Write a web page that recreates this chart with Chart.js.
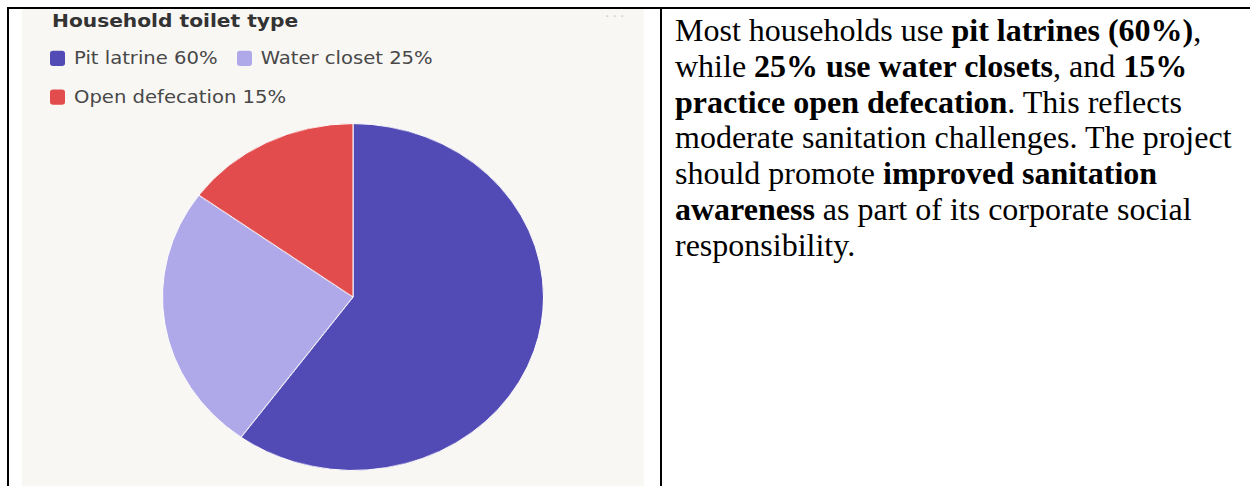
<!DOCTYPE html>
<html>
<head>
<meta charset="utf-8">
<script src="https://cdn.jsdelivr.net/npm/chart.js@4.4.1/dist/chart.umd.min.js"></script>
<style>
  body { margin: 0; width: 1250px; height: 486px; background: #fff; position: relative; overflow: hidden; }
  .rule { position: absolute; background: #000; }
  .panel { position: absolute; left: 22px; top: 9px; width: 622px; height: 477px; background: #f8f7f4; overflow: hidden; font-family: "DejaVu Sans", sans-serif; }
  .title { position: absolute; left: 30px; top: 3px; font-size: 20.2px; line-height: 20.2px; font-weight: 700; color: #333; transform: scaleY(0.9); transform-origin: 0 0; white-space: nowrap; }
  .menu { position: absolute; left: 583px; top: -1px; font-size: 14px; color: #cfcfcf; letter-spacing: 3px; }
  #legend { position: absolute; left: 28px; top: 30px; width: 440px; display: flex; flex-wrap: wrap; transform: scaleY(0.9); transform-origin: 0 0; }
  #legend .item { display: flex; align-items: center; height: 43px; margin-right: 19px; font-size: 19.6px; color: #484848; white-space: nowrap; }
  #legend .swatch { width: 15px; height: 16.5px; border-radius: 3px; margin-right: 9px; }
  .pie { position: absolute; left: 131px; top: 88px; width: 400px; height: 400px; transform: scaleY(0.91); transform-origin: 50% 50%; }
  .note { position: absolute; left: 675px; top: 13px; font-family: "Liberation Serif", "Times New Roman", serif; font-size: 32px; line-height: 35.8px; color: #000; white-space: nowrap; }
</style>
</head>
<body>
<div class="rule" style="left:7px; top:7px; width:1243px; height:2px;"></div>
<div class="rule" style="left:7px; top:7px; width:2px; height:479px;"></div>
<div class="rule" style="left:660px; top:7px; width:2px; height:479px;"></div>

<div class="panel">
  <div class="title">Household toilet type</div>
  <div class="menu">···</div>
  <div id="legend"></div>
  <div class="pie"><canvas id="toilets" width="400" height="400"></canvas></div>
</div>

<div class="note">
  Most households use <b>pit latrines (60%)</b>,<br>
  while <b>25% use water closets</b>, and <b>15%</b><br>
  <b>practice open defecation</b>. This reflects<br>
  moderate sanitation challenges. The project<br>
  should promote <b>improved sanitation</b><br>
  <b>awareness</b> as part of its corporate social<br>
  responsibility.
</div>

<script>
const toiletTypes = ["Pit latrine", "Water closet", "Open defecation"];
const householdShare = [60, 25, 15];
const sliceColors = ["#534bb5", "#b0a9e9", "#e24c4c"];

const chart = new Chart(document.getElementById("toilets"), {
  type: "pie",
  data: {
    labels: toiletTypes,
    datasets: [{
      data: householdShare,
      backgroundColor: sliceColors,
      borderColor: "#ffffff",
      borderWidth: 1,
      hoverOffset: 0,
    }],
  },
  options: {
    responsive: false,
    animation: false,
    layout: { padding: 9 },
    plugins: {
      legend: { display: false },
      tooltip: { enabled: false },
    },
  },
});

// legend as html so the rows break like the dashboard card
const legendEl = document.getElementById("legend");
chart.options.plugins.legend.labels.generateLabels(chart).forEach((item) => {
  const row = document.createElement("div");
  row.className = "item";
  const swatch = document.createElement("span");
  swatch.className = "swatch";
  swatch.style.background = item.fillStyle;
  row.appendChild(swatch);
  row.appendChild(document.createTextNode(`${item.text} ${householdShare[item.index]}%`));
  legendEl.appendChild(row);
});
</script>
</body>
</html>
